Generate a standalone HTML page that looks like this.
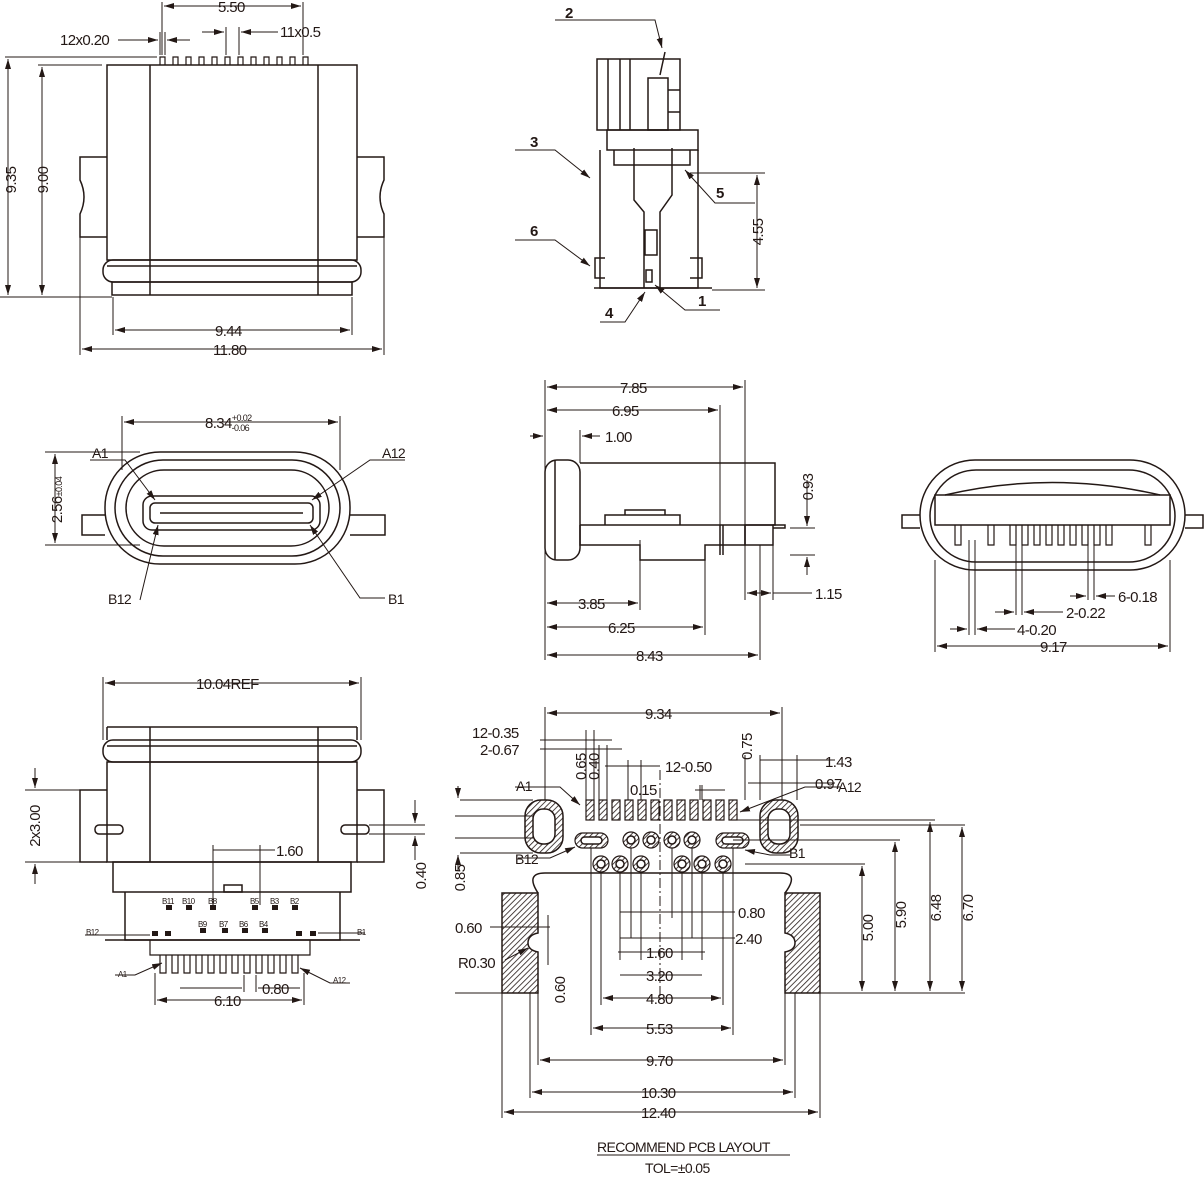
<!DOCTYPE html>
<html><head><meta charset="utf-8"><style>
html,body{margin:0;padding:0;background:#fff}
svg{display:block}
text{font-family:"Liberation Sans Narrow","Liberation Sans",sans-serif;font-size:15px;letter-spacing:-0.6px;fill:#231815}
</style></head><body>
<svg width="1204" height="1178" viewBox="0 0 1204 1178" xmlns="http://www.w3.org/2000/svg">
<defs>
<marker id="a" viewBox="0 0 10 6" refX="10" refY="3" markerWidth="10" markerHeight="6" orient="auto-start-reverse" markerUnits="userSpaceOnUse"><path d="M0,0L10,3L0,6z" fill="#231815"/></marker>
<pattern id="h" width="4" height="4" patternUnits="userSpaceOnUse" patternTransform="rotate(45)"><rect width="4" height="4" fill="#fff"/><line x1="0" y1="0" x2="0" y2="4" stroke="#231815" stroke-width="1.6"/></pattern>
</defs>
<g fill="none" stroke="#231815" stroke-width="1.5">
<!-- ===== view 1 front ===== -->
<rect x="107" y="65" width="250" height="195"/>
<line x1="150" y1="65" x2="150" y2="295"/><line x1="318" y1="65" x2="318" y2="295"/>
<path d="M107,157H80V180Q88,197 80,214V237H107"/>
<path d="M357,157H384V180Q376,197 384,214V237H357"/>
<rect x="103" y="260" width="258" height="22" rx="10"/>
<line x1="107" y1="266" x2="357" y2="266"/>
<rect x="112" y="282" width="240" height="13"/>
<g stroke-width="1.2">
<path d="M160,65v-8h5v8M173,65v-8h5v8M186,65v-8h5v8M199,65v-8h5v8M212,65v-8h5v8M225,65v-8h5v8M238,65v-8h5v8M251,65v-8h5v8M264,65v-8h5v8M277,65v-8h5v8M290,65v-8h5v8M303,65v-8h5v8"/>
</g>
<!-- dims -->
<g stroke-width="1">
<line x1="5" y1="57" x2="157" y2="57"/><line x1="0" y1="297" x2="112" y2="297"/>
<line x1="8" y1="59" x2="8" y2="295" marker-start="url(#a)" marker-end="url(#a)"/>
<line x1="38" y1="65" x2="102" y2="65"/>
<line x1="42" y1="67" x2="42" y2="295" marker-start="url(#a)" marker-end="url(#a)"/>
<line x1="113" y1="297" x2="113" y2="335"/><line x1="352" y1="297" x2="352" y2="335"/>
<line x1="115" y1="330" x2="350" y2="330" marker-start="url(#a)" marker-end="url(#a)"/>
<line x1="80" y1="237" x2="80" y2="355"/><line x1="384" y1="237" x2="384" y2="355"/>
<line x1="82" y1="349" x2="382" y2="349" marker-start="url(#a)" marker-end="url(#a)"/>
<line x1="162" y1="2" x2="162" y2="55"/><line x1="303" y1="2" x2="303" y2="55"/>
<line x1="164" y1="6" x2="301" y2="6" marker-start="url(#a)" marker-end="url(#a)"/>
<line x1="118" y1="40" x2="158" y2="40" marker-end="url(#a)"/><line x1="190" y1="40" x2="167" y2="40" marker-end="url(#a)"/>
<line x1="160" y1="32" x2="160" y2="55"/><line x1="165" y1="32" x2="165" y2="55"/>
<line x1="226" y1="27" x2="226" y2="55"/><line x1="239" y1="27" x2="239" y2="55"/>
<line x1="202" y1="32" x2="224" y2="32" marker-end="url(#a)"/><line x1="278" y1="32" x2="241" y2="32" marker-end="url(#a)"/>
</g>
<!-- ===== view 2 side ===== -->
<rect x="597" y="59" width="83" height="71"/>
<line x1="608" y1="59" x2="608" y2="130"/><line x1="620" y1="59" x2="620" y2="130"/><line x1="630" y1="59" x2="630" y2="130"/>
<rect x="648" y="78" width="20" height="52"/><line x1="668" y1="90" x2="680" y2="90"/><line x1="668" y1="112" x2="680" y2="112"/>
<path d="M660,75 L665,52"/>
<rect x="607" y="130" width="91" height="20"/>
<path d="M600,150V288H698V150"/>
<path d="M614,150V165H690V150"/>
<path d="M634,148V200L644,212V288M672,148V195L660,212V288"/>
<rect x="645" y="230" width="12" height="25"/><rect x="646" y="270" width="6" height="12"/>
<path d="M605,258h-10v20h10M690,258h12v20h-12"/>
<path d="M594,288H712"/>
<g stroke-width="1">
<path d="M555,20H655L662,48" marker-end="url(#a)"/>
<path d="M515,150H555L590,178" marker-end="url(#a)"/>
<path d="M515,240H555L590,266" marker-end="url(#a)"/>
<path d="M600,322H625L645,292" marker-end="url(#a)"/>
<path d="M720,310H685L655,285" marker-end="url(#a)"/>
<path d="M755,203H715L685,170" marker-end="url(#a)"/>
<line x1="690" y1="173" x2="765" y2="173"/><line x1="712" y1="290" x2="765" y2="290"/>
<line x1="757" y1="175" x2="757" y2="288" marker-start="url(#a)" marker-end="url(#a)"/>
</g>
<!-- ===== view 3 end ===== -->
<rect x="105" y="452" width="245" height="112" rx="55"/>
<rect x="115" y="460" width="225" height="96" rx="48"/>
<rect x="126" y="470" width="203" height="76" rx="38"/>
<path d="M105,515H82V535H105M350,515H385V535H350"/>
<rect x="143" y="496" width="177" height="34" rx="9"/>
<rect x="150" y="503" width="163" height="20" rx="5"/>
<line x1="160" y1="513" x2="303" y2="513"/>
<g stroke-width="1">
<line x1="122" y1="416" x2="122" y2="470"/><line x1="340" y1="416" x2="340" y2="470"/>
<line x1="124" y1="422" x2="338" y2="422" marker-start="url(#a)" marker-end="url(#a)"/>
<line x1="45" y1="452" x2="140" y2="452"/><line x1="45" y1="545" x2="140" y2="545"/>
<line x1="55" y1="454" x2="55" y2="543" marker-start="url(#a)" marker-end="url(#a)"/>
<path d="M90,460H125L155,500" marker-end="url(#a)"/>
<path d="M405,460H370L312,500" marker-end="url(#a)"/>
<path d="M140,600L158,525" marker-end="url(#a)"/>
<path d="M385,598H360L310,525" marker-end="url(#a)"/>
</g>
<!-- ===== view 4 side ===== -->
<rect x="545" y="460" width="35" height="100" rx="12"/>
<line x1="555" y1="460" x2="555" y2="560"/>
<path d="M580,463H775V525H580"/>
<path d="M580,525V545H640V560H705V545H745V525"/>
<path d="M605,525V515H680V525M625,515V510H665V515"/>
<rect x="745" y="525" width="28" height="20"/>
<path d="M773,525H785V528H773"/>
<line x1="720" y1="525" x2="720" y2="555"/><line x1="723" y1="525" x2="723" y2="555"/>
<g stroke-width="1">
<line x1="545" y1="380" x2="545" y2="660"/>
<line x1="745" y1="380" x2="745" y2="525"/>
<line x1="547" y1="387" x2="743" y2="387" marker-start="url(#a)" marker-end="url(#a)"/>
<line x1="720" y1="405" x2="720" y2="525"/>
<line x1="547" y1="410" x2="718" y2="410" marker-start="url(#a)" marker-end="url(#a)"/>
<line x1="580" y1="430" x2="580" y2="463"/>
<line x1="530" y1="436" x2="543" y2="436" marker-end="url(#a)"/><line x1="600" y1="436" x2="582" y2="436" marker-end="url(#a)"/>
<line x1="640" y1="540" x2="640" y2="610"/>
<line x1="547" y1="603" x2="638" y2="603" marker-start="url(#a)" marker-end="url(#a)"/>
<line x1="705" y1="560" x2="705" y2="635"/>
<line x1="547" y1="627" x2="703" y2="627" marker-start="url(#a)" marker-end="url(#a)"/>
<line x1="760" y1="545" x2="760" y2="660"/>
<line x1="547" y1="655" x2="758" y2="655" marker-start="url(#a)" marker-end="url(#a)"/>
<line x1="745" y1="545" x2="745" y2="600"/><line x1="773" y1="545" x2="773" y2="600"/>
<line x1="747" y1="593" x2="771" y2="593" marker-start="url(#a)" marker-end="url(#a)"/>
<line x1="773" y1="593" x2="812" y2="593"/>
<line x1="790" y1="528" x2="815" y2="528"/><line x1="790" y1="555" x2="815" y2="555"/>
<line x1="807" y1="480" x2="807" y2="526" marker-end="url(#a)"/><line x1="807" y1="575" x2="807" y2="557" marker-end="url(#a)"/>
</g>
<!-- ===== view 5 end ===== -->
<rect x="920" y="460" width="265" height="110" rx="55"/>
<rect x="930" y="470" width="245" height="92" rx="46"/>
<rect x="935" y="495" width="235" height="30"/>
<path d="M920,515H902V528H920M1185,515H1203V528H1185"/>
<path d="M945,495Q1052,470 1160,495"/>
<g stroke-width="1.2">
<path d="M955,525v20h6v-20M988,525v20h6v-20M1010,525v20h6v-20M1022,525v20h6v-20M1034,525v20h6v-20M1046,525v20h6v-20M1058,525v20h6v-20M1070,525v20h6v-20M1082,525v20h6v-20M1094,525v20h6v-20M1106,525v20h6v-20M1145,525v20h6v-20"/>
</g>
<g stroke-width="1">
<line x1="935" y1="560" x2="935" y2="652"/><line x1="1170" y1="560" x2="1170" y2="652"/>
<line x1="937" y1="646" x2="1168" y2="646" marker-start="url(#a)" marker-end="url(#a)"/>
<line x1="969" y1="540" x2="969" y2="635"/><line x1="975" y1="540" x2="975" y2="635"/>
<line x1="950" y1="629" x2="967" y2="629" marker-end="url(#a)"/><line x1="1015" y1="629" x2="977" y2="629" marker-end="url(#a)"/>
<line x1="1016" y1="540" x2="1016" y2="615"/><line x1="1022" y1="540" x2="1022" y2="615"/>
<line x1="995" y1="612" x2="1014" y2="612" marker-end="url(#a)"/><line x1="1063" y1="612" x2="1024" y2="612" marker-end="url(#a)"/>
<line x1="1088" y1="540" x2="1088" y2="600"/><line x1="1094" y1="540" x2="1094" y2="600"/>
<line x1="1070" y1="596" x2="1086" y2="596" marker-end="url(#a)"/><line x1="1115" y1="596" x2="1096" y2="596" marker-end="url(#a)"/>
</g>
<!-- ===== view 6 bottom ===== -->
<rect x="103" y="740" width="258" height="22" rx="10"/>
<line x1="107" y1="746" x2="357" y2="746"/>
<rect x="107" y="762" width="250" height="100"/>
<line x1="107" y1="727" x2="357" y2="727"/><line x1="107" y1="727" x2="107" y2="740"/><line x1="357" y1="727" x2="357" y2="740"/>
<line x1="150" y1="727" x2="150" y2="862"/><line x1="318" y1="727" x2="318" y2="862"/>
<path d="M107,790H80V862H107M357,790H384V862H357"/>
<rect x="95" y="825" width="28" height="9" rx="4"/><rect x="341" y="825" width="28" height="9" rx="4"/>
<rect x="113" y="862" width="238" height="30"/>
<path d="M125,892V940H340V892"/>
<rect x="224" y="885" width="18" height="7"/>
<line x1="105" y1="940" x2="360" y2="940"/>
<g fill="#231815" stroke="none">
<rect x="166" y="905" width="6" height="5"/><rect x="186" y="905" width="6" height="5"/><rect x="210" y="905" width="6" height="5"/><rect x="252" y="905" width="6" height="5"/><rect x="272" y="905" width="6" height="5"/><rect x="292" y="905" width="6" height="5"/>
<rect x="200" y="928" width="6" height="5"/><rect x="222" y="928" width="6" height="5"/><rect x="242" y="928" width="6" height="5"/><rect x="262" y="928" width="6" height="5"/>
<rect x="152" y="931" width="6" height="5"/><rect x="165" y="931" width="6" height="5"/><rect x="296" y="931" width="6" height="5"/><rect x="310" y="931" width="6" height="5"/>
</g>
<g stroke-width="1.2"><path d="M160,955v18h6v-18M172,955v18h6v-18M184,955v18h6v-18M196,955v18h6v-18M208,955v18h6v-18M220,955v18h6v-18M232,955v18h6v-18M244,955v18h6v-18M256,955v18h6v-18M268,955v18h6v-18M280,955v18h6v-18M292,955v18h6v-18"/>
<path d="M150,940V955H310V940"/></g>
<g stroke-width="1">
<line x1="103" y1="677" x2="103" y2="740"/><line x1="361" y1="677" x2="361" y2="740"/>
<line x1="105" y1="683" x2="359" y2="683" marker-start="url(#a)" marker-end="url(#a)"/>
<line x1="25" y1="790" x2="80" y2="790"/><line x1="25" y1="862" x2="80" y2="862"/>
<line x1="35" y1="768" x2="35" y2="788" marker-end="url(#a)"/><line x1="35" y1="884" x2="35" y2="864" marker-end="url(#a)"/>
<line x1="369" y1="825" x2="425" y2="825"/><line x1="369" y1="834" x2="425" y2="834"/>
<line x1="415" y1="800" x2="415" y2="823" marker-end="url(#a)"/><line x1="415" y1="860" x2="415" y2="836" marker-end="url(#a)"/>
<line x1="213" y1="845" x2="213" y2="905"/><line x1="260" y1="845" x2="260" y2="905"/>
<line x1="213" y1="850" x2="275" y2="850"/>
<line x1="155" y1="973" x2="155" y2="1005"/><line x1="304" y1="973" x2="304" y2="1005"/>
<line x1="157" y1="1000" x2="302" y2="1000" marker-start="url(#a)" marker-end="url(#a)"/>
<line x1="244" y1="975" x2="244" y2="992"/><line x1="256" y1="975" x2="256" y2="992"/>
<line x1="180" y1="988" x2="242" y2="988"/><line x1="258" y1="988" x2="300" y2="988"/>
<path d="M85,935H100L150,935"/><path d="M365,933H350L318,933"/>
<path d="M115,975H135L162,963" marker-end="url(#a)"/><path d="M350,983H330L300,968" marker-end="url(#a)"/>
</g>
<!-- ===== view 7 PCB ===== -->
<rect x="525" y="800" width="38" height="53" rx="16" fill="url(#h)" stroke-width="1.5"/>
<rect x="533" y="809" width="22" height="35" rx="10" fill="#fff"/>
<rect x="760" y="800" width="38" height="53" rx="16" fill="url(#h)"/>
<rect x="768" y="809" width="22" height="35" rx="10" fill="#fff"/>
<g fill="url(#h)" stroke-width="1.2">
<rect x="586" y="800" width="8" height="20"/><rect x="599" y="800" width="8" height="20"/><rect x="612" y="800" width="8" height="20"/><rect x="625" y="800" width="8" height="20"/><rect x="638" y="800" width="8" height="20"/><rect x="651" y="800" width="8" height="20"/><rect x="664" y="800" width="8" height="20"/><rect x="677" y="800" width="8" height="20"/><rect x="690" y="800" width="8" height="20"/><rect x="703" y="800" width="8" height="20"/><rect x="716" y="800" width="8" height="20"/><rect x="729" y="800" width="8" height="20"/>
<rect x="575" y="833" width="33" height="15" rx="7.5"/><rect x="716" y="833" width="33" height="15" rx="7.5"/>
<circle cx="631" cy="840" r="8"/><circle cx="651" cy="840" r="8"/><circle cx="672" cy="840" r="8"/><circle cx="692" cy="840" r="8"/>
<circle cx="601" cy="864" r="8"/><circle cx="620" cy="864" r="8"/><circle cx="641" cy="864" r="8"/><circle cx="682" cy="864" r="8"/><circle cx="702" cy="864" r="8"/><circle cx="723" cy="864" r="8"/>
</g>
<g fill="#fff"><rect x="581" y="837" width="21" height="7" rx="3.5"/><rect x="722" y="837" width="21" height="7" rx="3.5"/>
<circle cx="631" cy="840" r="4"/><circle cx="651" cy="840" r="4"/><circle cx="672" cy="840" r="4"/><circle cx="692" cy="840" r="4"/>
<circle cx="601" cy="864" r="4"/><circle cx="620" cy="864" r="4"/><circle cx="641" cy="864" r="4"/><circle cx="682" cy="864" r="4"/><circle cx="702" cy="864" r="4"/><circle cx="723" cy="864" r="4"/></g>
<path d="M502,893H538V933Q528,935 528,943Q528,950 538,952V993H502Z" fill="url(#h)"/>
<path d="M785,893H820V993H785V952Q795,950 795,943Q795,935 785,933Z" fill="url(#h)"/>
<path d="M538,893Q525,873 545,873H780Q800,873 785,893" />
<g stroke-width="1">
<line x1="455" y1="993" x2="502" y2="993"/><line x1="820" y1="993" x2="965" y2="993"/>
<line x1="660" y1="770" x2="660" y2="1000" stroke-dasharray="10,3,2,3"/>
<line x1="545" y1="707" x2="545" y2="800"/><line x1="782" y1="707" x2="782" y2="800"/>
<line x1="547" y1="713" x2="780" y2="713" marker-start="url(#a)" marker-end="url(#a)"/>
<line x1="540" y1="740" x2="612" y2="740"/><line x1="540" y1="749" x2="622" y2="749"/>
<line x1="586" y1="730" x2="586" y2="800"/><line x1="594" y1="730" x2="594" y2="800"/><line x1="599" y1="745" x2="599" y2="800"/><line x1="607" y1="745" x2="607" y2="800"/>
<line x1="605" y1="766" x2="660" y2="766"/>
<line x1="628" y1="760" x2="628" y2="800"/><line x1="641" y1="760" x2="641" y2="800"/>
<line x1="695" y1="790" x2="725" y2="790"/><line x1="700" y1="785" x2="700" y2="800"/><line x1="702" y1="785" x2="702" y2="800"/>
<line x1="460" y1="800" x2="533" y2="800"/><line x1="460" y1="853" x2="533" y2="853"/>
<line x1="458" y1="786" x2="458" y2="798" marker-end="url(#a)"/><line x1="458" y1="870" x2="458" y2="855" marker-end="url(#a)"/>
<line x1="455" y1="816" x2="533" y2="816"/><line x1="455" y1="838" x2="533" y2="838"/>
<line x1="760" y1="755" x2="760" y2="800"/><line x1="797" y1="755" x2="797" y2="800"/>
<line x1="760" y1="760" x2="835" y2="760"/><line x1="748" y1="783" x2="835" y2="783"/>
<line x1="745" y1="755" x2="745" y2="800"/>
<line x1="800" y1="825" x2="965" y2="825"/><line x1="735" y1="820" x2="935" y2="820"/><line x1="733" y1="840" x2="900" y2="840"/><line x1="745" y1="864" x2="865" y2="864"/>
<line x1="962" y1="827" x2="962" y2="991" marker-start="url(#a)" marker-end="url(#a)"/>
<line x1="930" y1="822" x2="930" y2="991" marker-start="url(#a)" marker-end="url(#a)"/>
<line x1="895" y1="842" x2="895" y2="991" marker-start="url(#a)" marker-end="url(#a)"/>
<line x1="862" y1="866" x2="862" y2="991" marker-start="url(#a)" marker-end="url(#a)"/>
<line x1="631" y1="848" x2="631" y2="938"/><line x1="672" y1="848" x2="672" y2="918"/>
<line x1="620" y1="912" x2="735" y2="912"/>
<line x1="692" y1="848" x2="692" y2="938"/>
<line x1="620" y1="938" x2="735" y2="938"/>
<line x1="620" y1="872" x2="620" y2="960"/><line x1="641" y1="872" x2="641" y2="960"/><line x1="682" y1="872" x2="682" y2="960"/><line x1="702" y1="872" x2="702" y2="960"/>
<line x1="618" y1="952" x2="705" y2="952"/>
<line x1="620" y1="975" x2="702" y2="975"/>
<line x1="601" y1="872" x2="601" y2="1005"/><line x1="723" y1="872" x2="723" y2="1005"/>
<line x1="603" y1="998" x2="721" y2="998" marker-start="url(#a)" marker-end="url(#a)"/>
<line x1="591" y1="848" x2="591" y2="1035"/><line x1="733" y1="848" x2="733" y2="1035"/>
<line x1="593" y1="1028" x2="731" y2="1028" marker-start="url(#a)" marker-end="url(#a)"/>
<line x1="538" y1="993" x2="538" y2="1065"/><line x1="785" y1="993" x2="785" y2="1065"/>
<line x1="540" y1="1060" x2="783" y2="1060" marker-start="url(#a)" marker-end="url(#a)"/>
<line x1="530" y1="993" x2="530" y2="1098"/><line x1="795" y1="993" x2="795" y2="1098"/>
<line x1="532" y1="1092" x2="793" y2="1092" marker-start="url(#a)" marker-end="url(#a)"/>
<line x1="502" y1="993" x2="502" y2="1118"/><line x1="820" y1="993" x2="820" y2="1118"/>
<line x1="504" y1="1112" x2="818" y2="1112" marker-start="url(#a)" marker-end="url(#a)"/>
<line x1="490" y1="927" x2="550" y2="927"/><line x1="548" y1="915" x2="548" y2="965"/>
<path d="M505,960L528,948" marker-end="url(#a)"/>
<path d="M515,787H560L580,805" marker-end="url(#a)"/>
<path d="M518,858H550L575,847" marker-end="url(#a)"/>
<path d="M790,855H770L745,850" marker-end="url(#a)"/>
<path d="M840,787H805L740,812" marker-end="url(#a)"/>
<line x1="597" y1="1155" x2="790" y2="1155"/>
</g>
</g>
<!-- text -->
<text x="60" y="45">12x0.20</text>
<text x="280" y="37">11x0.5</text>
<text x="218" y="12">5.50</text>
<text x="16" y="180" transform="rotate(-90 16 180)" text-anchor="middle">9.35</text>
<text x="48" y="180" transform="rotate(-90 48 180)" text-anchor="middle">9.00</text>
<text x="215" y="336">9.44</text>
<text x="213" y="355">11.80</text>
<text x="565" y="18" font-weight="bold">2</text>
<text x="530" y="147" font-weight="bold">3</text>
<text x="530" y="236" font-weight="bold">6</text>
<text x="605" y="318" font-weight="bold">4</text>
<text x="698" y="306" font-weight="bold">1</text>
<text x="716" y="198" font-weight="bold">5</text>
<text x="763" y="232" transform="rotate(-90 763 232)" text-anchor="middle">4.55</text>
<text x="205" y="428">8.34<tspan style="font-size:9px" dy="-7">+0.02</tspan><tspan style="font-size:9px" dx="-20" dy="10">-0.06</tspan></text>
<text x="62" y="500" transform="rotate(-90 62 500)" text-anchor="middle">2.56<tspan style="font-size:9px">±0.04</tspan></text>
<text x="92" y="458" style="font-size:14px">A1</text>
<text x="382" y="458" style="font-size:14px">A12</text>
<text x="108" y="604" style="font-size:14px">B12</text>
<text x="388" y="604" style="font-size:14px">B1</text>
<text x="620" y="393">7.85</text>
<text x="612" y="416">6.95</text>
<text x="605" y="442">1.00</text>
<text x="813" y="487" transform="rotate(-90 813 487)" text-anchor="middle">0.93</text>
<text x="578" y="609">3.85</text>
<text x="608" y="633">6.25</text>
<text x="636" y="661">8.43</text>
<text x="815" y="599">1.15</text>
<text x="1040" y="652">9.17</text>
<text x="1017" y="635">4-0.20</text>
<text x="1066" y="618">2-0.22</text>
<text x="1118" y="602">6-0.18</text>
<text x="196" y="689">10.04REF</text>
<text x="40" y="826" transform="rotate(-90 40 826)" text-anchor="middle">2x3.00</text>
<text x="426" y="876" transform="rotate(-90 426 876)" text-anchor="middle">0.40</text>
<text x="276" y="856">1.60</text>
<text x="214" y="1006">6.10</text>
<text x="262" y="994">0.80</text>
<g style="font-size:8px;letter-spacing:0"><text x="162" y="904" style="font-size:8px">B11</text><text x="182" y="904" style="font-size:8px">B10</text><text x="208" y="904" style="font-size:8px">B8</text><text x="250" y="904" style="font-size:8px">B5</text><text x="270" y="904" style="font-size:8px">B3</text><text x="290" y="904" style="font-size:8px">B2</text>
<text x="198" y="927" style="font-size:8px">B9</text><text x="219" y="927" style="font-size:8px">B7</text><text x="239" y="927" style="font-size:8px">B6</text><text x="259" y="927" style="font-size:8px">B4</text>
<text x="86" y="935" style="font-size:8px">B12</text><text x="357" y="935" style="font-size:8px">B1</text><text x="118" y="977" style="font-size:8px">A1</text><text x="333" y="983" style="font-size:8px">A12</text></g>
<text x="645" y="719">9.34</text>
<text x="472" y="738">12-0.35</text>
<text x="480" y="755">2-0.67</text>
<text x="665" y="772">12-0.50</text>
<text x="630" y="795">0.15</text>
<text x="586" y="780" transform="rotate(-90 586 780)">0.65</text>
<text x="599" y="780" transform="rotate(-90 599 780)">0.40</text>
<text x="752" y="760" transform="rotate(-90 752 760)">0.75</text>
<text x="825" y="767">1.43</text>
<text x="815" y="789">0.97</text>
<text x="838" y="792" style="font-size:14px">A12</text>
<text x="516" y="791" style="font-size:14px">A1</text>
<text x="515" y="864" style="font-size:14px">B12</text>
<text x="789" y="858" style="font-size:14px">B1</text>
<text x="465" y="878" transform="rotate(-90 465 878)" text-anchor="middle">0.85</text>
<text x="738" y="918">0.80</text>
<text x="735" y="944">2.40</text>
<text x="646" y="958">1.60</text>
<text x="646" y="981">3.20</text>
<text x="646" y="1004">4.80</text>
<text x="646" y="1034">5.53</text>
<text x="646" y="1066">9.70</text>
<text x="641" y="1098">10.30</text>
<text x="641" y="1118">12.40</text>
<text x="455" y="933">0.60</text>
<text x="458" y="968">R0.30</text>
<text x="565" y="990" transform="rotate(-90 565 990)" text-anchor="middle">0.60</text>
<text x="873" y="928" transform="rotate(-90 873 928)" text-anchor="middle">5.00</text>
<text x="906" y="915" transform="rotate(-90 906 915)" text-anchor="middle">5.90</text>
<text x="941" y="908" transform="rotate(-90 941 908)" text-anchor="middle">6.48</text>
<text x="973" y="908" transform="rotate(-90 973 908)" text-anchor="middle">6.70</text>
<text x="597" y="1152" style="font-size:14px">RECOMMEND PCB LAYOUT</text>
<text x="645" y="1173" style="font-size:14px">TOL=±0.05</text>
</svg>
</body></html>
